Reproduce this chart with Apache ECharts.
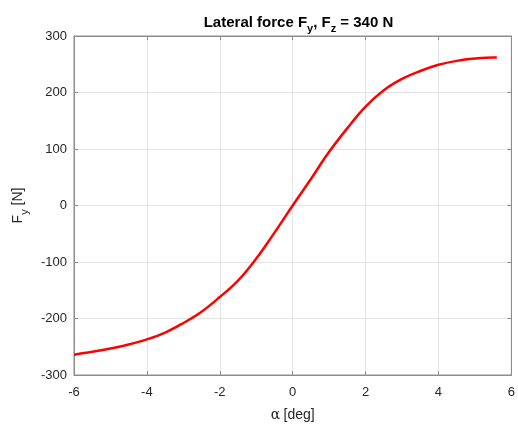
<!DOCTYPE html>
<html>
<head>
<meta charset="utf-8">
<script src="https://cdn.jsdelivr.net/npm/echarts@6/dist/echarts.min.js"></script>
<style>
html,body{margin:0;padding:0;background:#fff;}
#chart{width:518px;height:427px;}
</style>
</head>
<body>
<div id="chart"></div>
<script>
const alphaDeg = [-6, -5.5, -5, -4.5, -4, -3.5, -3, -2.5, -2, -1.5, -1, -0.5, 0, 0.5, 1, 1.5, 2, 2.5, 3, 3.5, 4, 4.5, 5, 5.5, 5.6];
const fyValues = [-264, -259, -253, -246, -237, -225, -208, -188, -162, -133, -94, -48, 0, 47, 95, 137, 175, 204, 224, 238, 249, 256, 260, 262, 262];
const xTicks = [-6, -4, -2, 0, 2, 4, 6];
const yTicks = [-300, -200, -100, 0, 100, 200, 300];

const FONT = '"Liberation Sans", Arial, Helvetica, sans-serif';
const axisCol = '#8c8c8c';
const textCol = '#262626';
const gridCol = '#e3e3e3';

const chart = echarts.init(document.getElementById('chart'), null, {renderer: 'canvas'});
const data = alphaDeg.map((x, i) => [x, fyValues[i]]);

chart.setOption({
  animation: false,
  backgroundColor: '#ffffff',
  title: {
    text: '{t|Lateral force F}{s|y}{t|, F}{s|z}{t| = 340 N}',
    left: 293.5,
    textAlign: 'center',
    top: 10,
    textStyle: {
      rich: {
        t: {fontFamily: FONT, fontWeight: 'bold', fontSize: 15, color: '#000', verticalAlign: 'top', lineHeight: 16},
        s: {fontFamily: FONT, fontWeight: 'bold', fontSize: 11, color: '#000', verticalAlign: 'top', padding: [8, 0, 0, 0], lineHeight: 16}
      }
    }
  },
  grid: {left: 74, right: 5, top: 36, bottom: 45, show: true, borderColor: axisCol, borderWidth: 1, backgroundColor: '#fff'},
  xAxis: [{
    type: 'value', min: -6, max: 6, interval: 2,
    name: '{a|α} {b|[deg]}', nameLocation: 'middle', nameGap: 33,
    nameTextStyle: {rich: {
      a: {fontFamily: '"DejaVu Serif", "Liberation Serif", serif', fontSize: 14, color: textCol},
      b: {fontFamily: FONT, fontSize: 14, color: textCol}
    }},
    axisLine: {show: true, onZero: false, lineStyle: {color: axisCol, width: 1}},
    axisTick: {show: true, inside: true, length: 4, lineStyle: {color: axisCol}},
    axisLabel: {fontFamily: FONT, fontSize: 13, color: textCol, margin: 11, formatter: v => String(v)},
    splitLine: {show: true, lineStyle: {color: gridCol, width: 1}}
  }, {
    type: 'value', min: -6, max: 6, interval: 2, position: 'top',
    axisLine: {show: true, onZero: false, lineStyle: {color: axisCol}},
    axisTick: {show: true, inside: true, length: 4, lineStyle: {color: axisCol}},
    axisLabel: {show: false}, splitLine: {show: false}
  }],
  yAxis: [{
    type: 'value', min: -300, max: 300, interval: 100,
    name: '{t|F}{s|y}{t| [N]}', nameLocation: 'middle', nameGap: 37, nameRotate: 90,
    nameTextStyle: {rich: {
      t: {fontFamily: FONT, fontSize: 14, color: textCol, verticalAlign: 'top', lineHeight: 16},
      s: {fontFamily: FONT, fontSize: 11, color: textCol, verticalAlign: 'top', padding: [8, 0, 0, 0], lineHeight: 16}
    }},
    axisLine: {show: true, onZero: false, lineStyle: {color: axisCol, width: 1}},
    axisTick: {show: true, inside: true, length: 4, lineStyle: {color: axisCol}},
    axisLabel: {fontFamily: FONT, fontSize: 13, color: textCol, margin: 7, padding: [4, 0, 0, 0], formatter: v => String(v)},
    splitLine: {show: true, lineStyle: {color: gridCol, width: 1}}
  }, {
    type: 'value', min: -300, max: 300, interval: 100, position: 'right',
    axisLine: {show: true, onZero: false, lineStyle: {color: axisCol}},
    axisTick: {show: true, inside: true, length: 4, lineStyle: {color: axisCol}},
    axisLabel: {show: false}, splitLine: {show: false}
  }],
  series: [{
    type: 'line',
    data: data,
    smooth: 0.4,
    showSymbol: false,
    lineStyle: {color: '#ff0000', width: 2.5},
    itemStyle: {color: '#ff0000'}
  }]
});
</script>
</body>
</html>
